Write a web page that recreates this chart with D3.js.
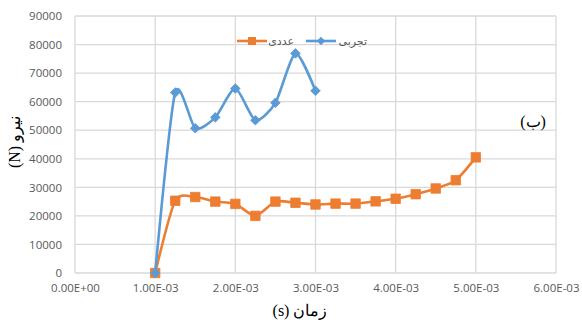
<!DOCTYPE html>
<html>
<head>
<meta charset="utf-8">
<script src="https://cdn.jsdelivr.net/npm/d3@7/dist/d3.min.js"></script>
<style>
  html, body { margin: 0; padding: 0; background: #fff; }
  svg { display: block; }
</style>
</head>
<body>
<svg id="chart" width="582" height="327"></svg>
<script>
// Time steps (s) and force (N) for the two series
const timeNumeric = [0.001, 0.00125, 0.0015, 0.00175, 0.002, 0.00225, 0.0025, 0.00275, 0.003,
                     0.00325, 0.0035, 0.00375, 0.004, 0.00425, 0.0045, 0.00475, 0.005];
const forceNumeric = [0, 25300, 26600, 25000, 24200, 20000, 25000, 24600, 24000,
                      24300, 24300, 25100, 26000, 27600, 29600, 32500, 40500];

const timeExperimental = [0.001, 0.00125, 0.0015, 0.00175, 0.002, 0.00225, 0.0025, 0.00275, 0.003];
const forceExperimental = [0, 63200, 50700, 54500, 64600, 53500, 59600, 76900, 63800];

const xTicks = [0, 0.001, 0.002, 0.003, 0.004, 0.005, 0.006];
const yTicks = [0, 10000, 20000, 30000, 40000, 50000, 60000, 70000, 80000, 90000];

const seriesNames = ["عددی", "تجربی"];
const xTitle = "زمان (s)";
const yTitle = "نیرو (N)";
const panelLabel = "(ب)";

const colors = { numeric: "#ED7D31", experimental: "#5B9BD5", grid: "#d9d9d9", tick: "#595959" };

const svg = d3.select("#chart");
const plot = { left: 75, right: 556, top: 16, bottom: 273 };

const x = d3.scaleLinear().domain([0, 0.006]).range([plot.left, plot.right]);
const y = d3.scaleLinear().domain([0, 90000]).range([plot.bottom, plot.top]);

function sci(d) {
  if (d === 0) return "0.00E+00";
  const [m, e] = d.toExponential(2).toUpperCase().split("E");
  const sign = e[0] === "-" ? "-" : "+";
  const n = Math.abs(+e);
  return m + "E" + sign + (n < 10 ? "0" + n : n);
}

// Gridlines
const grid = svg.append("g");
grid.selectAll("line.h").data(yTicks).join("line")
  .attr("x1", plot.left).attr("x2", plot.right)
  .attr("y1", d => y(d)).attr("y2", d => y(d))
  .attr("stroke", colors.grid).attr("stroke-width", 1.3);
grid.selectAll("line.v").data(xTicks).join("line")
  .attr("y1", plot.top).attr("y2", plot.bottom)
  .attr("x1", d => x(d)).attr("x2", d => x(d))
  .attr("stroke", colors.grid).attr("stroke-width", 1.3);

// Axes (labels only)
const yAxis = svg.append("g").attr("transform", `translate(${plot.left - 13},0)`)
  .call(d3.axisLeft(y).tickValues(yTicks).tickSize(0).tickPadding(0).tickFormat(d3.format("d")));
const xAxis = svg.append("g").attr("transform", `translate(0,${plot.bottom + 11})`)
  .call(d3.axisBottom(x).tickValues(xTicks).tickSize(0).tickPadding(0).tickFormat(sci));
[yAxis, xAxis].forEach(a => {
  a.select(".domain").remove();
  a.selectAll("text").attr("fill", colors.tick)
    .style("font-family", "'Open Sans', 'Liberation Sans', sans-serif").style("font-size", "11.5px");
});

const smooth = d3.line().curve(d3.curveCardinal.tension(0.3));

// Marker shapes: square, and a square turned 45° for the diamond
function marker(kind, size) {
  return d3.symbol().type(d3.symbolSquare).size(size)();
}

function drawSeries(ts, vs, color, kind) {
  const pts = ts.map((t, i) => [x(t), y(vs[i])]);
  svg.append("path").attr("d", smooth(pts)).attr("fill", "none")
    .attr("stroke", color).attr("stroke-width", 2.6).attr("stroke-linejoin", "round");
  svg.append("g").selectAll("path").data(pts).join("path")
    .attr("d", marker(kind, kind === "square" ? 90 : 46))
    .attr("transform", d => `translate(${d[0]},${d[1]})` + (kind === "square" ? "" : " rotate(45)"))
    .attr("fill", color).attr("stroke", color).attr("stroke-width", 0.8);
}

drawSeries(timeNumeric, forceNumeric, colors.numeric, "square");
drawSeries(timeExperimental, forceExperimental, colors.experimental, "diamond");

// Legend
const legend = svg.append("g");
const legendItems = [
  { name: seriesNames[0], color: colors.numeric, kind: "square", x0: 237, tx: 294 },
  { name: seriesNames[1], color: colors.experimental, kind: "diamond", x0: 306, tx: 367 }
];
legendItems.forEach(it => {
  legend.append("line").attr("x1", it.x0).attr("x2", it.x0 + 30).attr("y1", 41).attr("y2", 41)
    .attr("stroke", it.color).attr("stroke-width", 2.6);
  legend.append("path")
    .attr("transform", `translate(${it.x0 + 15},41)` + (it.kind === "square" ? "" : " rotate(45)"))
    .attr("d", marker(it.kind, it.kind === "square" ? 64 : 36))
    .attr("fill", it.color);
  legend.append("text").attr("x", it.tx).attr("y", 41).attr("dy", "0.35em")
    .attr("text-anchor", "end").attr("fill", colors.tick)
    .style("font-family", "'DejaVu Sans', sans-serif").style("font-size", "11px")
    .text(it.name);
});

// Titles
const serif = "'Liberation Serif', 'DejaVu Serif', serif";
svg.append("text").attr("x", 300).attr("y", 316).attr("text-anchor", "middle")
  .attr("direction", "rtl").style("font-family", serif).style("font-size", "16px")
  .attr("fill", "#000").text(xTitle);
svg.append("text").attr("transform", "translate(20,142) rotate(-90)").attr("text-anchor", "middle")
  .attr("direction", "rtl").style("font-family", serif).style("font-size", "16px")
  .attr("fill", "#000").text(yTitle);
svg.append("text").attr("x", 533).attr("y", 127).attr("text-anchor", "middle")
  .attr("direction", "rtl").style("font-family", serif).style("font-size", "16px")
  .attr("fill", "#000").text(panelLabel);
</script>
</body>
</html>
